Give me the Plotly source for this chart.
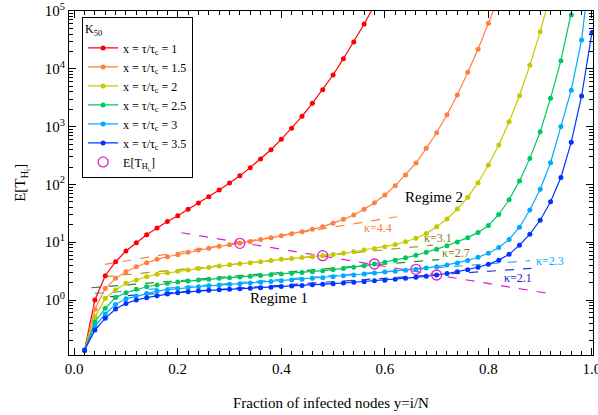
import plotly.graph_objects as go
import math

# ---------------- data ----------------
y_frac = [0.02, 0.04, 0.06, 0.08, 0.10, 0.12, 0.14, 0.16, 0.18, 0.20,
          0.22, 0.24, 0.26, 0.28, 0.30, 0.32, 0.34, 0.36, 0.38, 0.40,
          0.42, 0.44, 0.46, 0.48, 0.50, 0.52, 0.54, 0.56, 0.58, 0.60,
          0.62, 0.64, 0.66, 0.68, 0.70, 0.72, 0.74, 0.76, 0.78, 0.80,
          0.82, 0.84, 0.86, 0.88, 0.90, 0.92, 0.94, 0.96, 0.98, 1.00]

ET_x1 = [0.136, 1.0, 2.63, 4.60, 7.05, 9.77, 13.5, 17.6, 22.9, 28.7,
         37.1, 47.6, 61.2, 80.0, 106, 141, 195, 275, 398, 603,
         935, 1507, 2529, 4345, 7816, 14962, 29107, 59566, 126000]

ET_x15 = [0.136, 0.69, 1.58, 2.37, 3.09, 3.77, 4.42, 5.06, 5.61, 6.08,
          6.68, 7.33, 7.83, 8.51, 9.02, 9.57, 10.3, 11.1, 11.9, 12.9,
          14.0, 15.2, 16.7, 18.6, 21.2, 24.9, 29.6, 37.1, 48.3, 65.6,
          95.1, 146, 234, 421, 783, 1607, 3524, 8690, 21730, 61240,
          178000]

ET_x2 = [0.136, 0.513, 1.07, 1.49, 1.95, 2.22, 2.53, 2.79, 2.96, 3.16,
         3.31, 3.51, 3.67, 3.87, 4.06, 4.25, 4.42, 4.60, 4.83, 5.06,
         5.22, 5.43, 5.62, 5.85, 6.12, 6.43, 6.84, 7.33, 7.80, 8.36,
         9.12, 10.2, 11.7, 14.1, 18.5, 25.2, 37.5, 59.8, 107, 217,
         481, 1216, 3428, 11480, 43650, 200000]

ET_x25 = [0.136, 0.422, 0.718, 1.11, 1.34, 1.53, 1.70, 1.82, 1.95, 2.05,
          2.13, 2.22, 2.30, 2.37, 2.44, 2.51, 2.58, 2.65, 2.74, 2.82,
          2.90, 3.00, 3.10, 3.22, 3.36, 3.52, 3.70, 3.93, 4.20, 4.52,
          4.90, 5.37, 5.96, 6.68, 7.59, 8.71, 10.1, 12.0, 14.8, 19.5,
          30.2, 54.3, 115, 282, 813, 3090, 13800, 85100, 631000]

ET_x3 = [0.136, 0.355, 0.573, 0.841, 1.05, 1.17, 1.30, 1.43, 1.51, 1.59,
         1.63, 1.70, 1.77, 1.82, 1.87, 1.92, 1.98, 2.03, 2.09, 2.15,
         2.22, 2.29, 2.37, 2.44, 2.53, 2.62, 2.72, 2.82, 2.93, 3.05,
         3.14, 3.26, 3.40, 3.57, 3.78, 4.05, 4.39, 4.84, 5.50, 6.46,
         8.13, 11.2, 18.2, 36.1, 82.2, 237, 1000, 4266, 31600, 1000000]

ET_x35 = [0.136, 0.302, 0.482, 0.698, 0.875, 1.0, 1.10, 1.19, 1.27, 1.34,
          1.39, 1.43, 1.47, 1.50, 1.53, 1.56, 1.60, 1.63, 1.67, 1.71,
          1.75, 1.79, 1.83, 1.87, 1.92, 1.97, 2.03, 2.08, 2.15, 2.21,
          2.29, 2.37, 2.47, 2.58, 2.71, 2.88, 3.09, 3.35, 3.69, 4.17,
          4.90, 6.17, 8.91, 13.8, 24.0, 50.1, 132, 537, 3388, 42660]

series_names = ["x = τ/τ<sub>c</sub> = 1", "x = τ/τ<sub>c</sub> = 1.5",
                "x = τ/τ<sub>c</sub> = 2", "x = τ/τ<sub>c</sub> = 2.5",
                "x = τ/τ<sub>c</sub> = 3", "x = τ/τ<sub>c</sub> = 3.5"]
series_values = [ET_x1, ET_x15, ET_x2, ET_x25, ET_x3, ET_x35]
series_colors = ["#ff0000", "#ff7f40", "#c8c800", "#00c860", "#00aaff", "#0033ff"]

# E[T_His] points (circles)
his_x = [0.32, 0.48, 0.58, 0.66, 0.70]
his_y = [9.57, 5.85, 4.20, 3.40, 2.71]

# kappa tangent lines: (x0, x1), (y0, y1)
kappa_labels = ["κ=4.4", "κ=3.1", "κ=2.7", "κ=2.3", "κ=2.1"]
kappa_x = [(0.059, 0.623), (0.059, 0.693), (0.033, 0.705), (0.04, 0.88), (0.069, 0.883)]
kappa_y = [(4.14, 27.6), (2.53, 8.91), (1.63, 5.01), (1.30, 4.79), (1.14, 3.53)]
kappa_line_colors = ["#ff7f40", "#a0a010", "#2e8b2e", "#33aaff", "#2a3ad0"]
kappa_text_x = [0.587, 0.703, 0.738, 0.919, 0.858]
kappa_text_y = [17.4, 11.7, 6.43, 4.79, 2.37]
kappa_text_colors = ["#ff7f40", "#808000", "#808000", "#00aaff", "#2020c0"]

his_line_x = [0.207, 0.916]
his_line_y = [14.6, 1.30]

regime_labels = ["Regime 1", "Regime 2"]
regime_x = [0.395, 0.695]
regime_y = [1.07, 61.0]

x_title = "Fraction of infected nodes y=i/N"
y_title = "E[T<sub>H<sub>i</sub></sub>]"

# ---------------- figure ----------------
FONT = "Times New Roman"
fig = go.Figure()

# dashed kappa lines first (behind curves)
for kx, ky, kc in zip(kappa_x, kappa_y, kappa_line_colors):
    fig.add_trace(go.Scatter(x=list(kx), y=list(ky), mode="lines",
                             line=dict(color=kc, width=1.2, dash="dash"),
                             showlegend=False, hoverinfo="skip"))
fig.add_trace(go.Scatter(x=his_line_x, y=his_line_y, mode="lines",
                         line=dict(color="#e020c8", width=1.2, dash="dash"),
                         showlegend=False, hoverinfo="skip"))

for name, vals, col in zip(series_names, series_values, series_colors):
    fig.add_trace(go.Scatter(x=y_frac[:len(vals)], y=vals, mode="lines+markers",
                             name=name,
                             line=dict(color=col, width=1.2),
                             marker=dict(color=col, size=5)))

fig.add_trace(go.Scatter(x=his_x, y=his_y, mode="markers",
                         name="E[T<sub>H<sub>i<sub>s</sub></sub></sub>]",
                         marker=dict(symbol="circle-open", color="#e020c8", size=10,
                                     line=dict(width=1.3, color="#e020c8"))))

for t, tx, ty, tc in zip(kappa_labels, kappa_text_x, kappa_text_y, kappa_text_colors):
    fig.add_annotation(x=tx, y=math.log10(ty), text=t, showarrow=False,
                       font=dict(family=FONT, size=12, color=tc))
for t, tx, ty in zip(regime_labels, regime_x, regime_y):
    fig.add_annotation(x=tx, y=math.log10(ty), text=t, showarrow=False,
                       font=dict(family=FONT, size=15, color="black"))

# axis titles as paper-anchored annotations
fig.add_annotation(xref="paper", yref="paper", x=0.5, y=-0.11, yanchor="top",
                   text=x_title, showarrow=False,
                   font=dict(family=FONT, size=15, color="black"))
fig.add_annotation(xref="paper", yref="paper", x=-0.09, y=0.5, xanchor="center",
                   text=y_title, showarrow=False, textangle=-90,
                   font=dict(family=FONT, size=15, color="black"))

fig.update_layout(
    width=598, height=415,
    margin=dict(l=69, r=5, t=11, b=60),
    paper_bgcolor="white", plot_bgcolor="white",
    font=dict(family=FONT, size=15, color="black"),
    showlegend=True,
    legend=dict(x=0.025, y=0.983, xanchor="left", yanchor="top",
                bgcolor="white", bordercolor="black", borderwidth=1,
                font=dict(family=FONT, size=12),
                title=dict(text="K<sub>50</sub>", font=dict(family=FONT, size=12)),
                itemwidth=30, tracegroupgap=0),
)

fig.update_xaxes(
    range=[-0.01, 1.002], dtick=0.2, tick0=0, tickformat=".1f",
    automargin=False, ticklabeloverflow="allow",
    showline=True, linecolor="black", linewidth=1, mirror="allticks",
    ticks="inside", ticklen=7, tickcolor="black",
    minor=dict(ticks="inside", ticklen=4, dtick=0.02, tick0=0, tickcolor="black"),
    showgrid=False, zeroline=False,
    tickfont=dict(family=FONT, size=15),
)

fig.update_yaxes(
    type="log", range=[math.log10(0.112), 5.0],
    automargin=False, ticklabeloverflow="allow",
    tickmode="array",
    tickvals=[1, 10, 100, 1000, 10000, 100000],
    ticktext=["10<sup>0</sup>", "10<sup>1</sup>", "10<sup>2</sup>",
              "10<sup>3</sup>", "10<sup>4</sup>", "10<sup>5</sup>"],
    showline=True, linecolor="black", linewidth=1, mirror="allticks",
    ticks="inside", ticklen=7, tickcolor="black",
    minor=dict(ticks="inside", ticklen=4, tickmode="linear", dtick="D1", tickcolor="black"),
    showgrid=False, zeroline=False,
    tickfont=dict(family=FONT, size=15),
)

# remove the page's default body margin so the figure sits at the window's corner
fig.write_html("out.html", config={"displayModeBar": False},
               post_script="document.body.style.margin='0';")
